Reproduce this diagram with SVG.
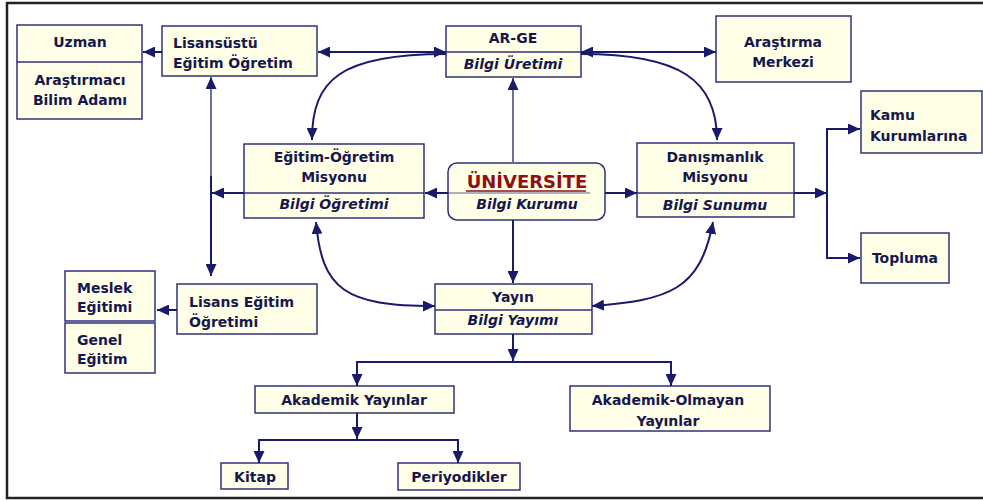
<svg xmlns="http://www.w3.org/2000/svg" width="983" height="500" viewBox="0 0 983 500">
<style>
.box{fill:#ffffe8;stroke:#30307f;stroke-width:1.5}
.div{stroke:#30307f;stroke-width:1.5}
.t{font-family:"DejaVu Sans",Verdana,sans-serif;font-size:14px;font-weight:bold;fill:#17174f}
.c{text-anchor:middle}
.i{font-style:italic}
.ln{fill:none;stroke:#1a1a6a;stroke-width:2}
.gl{fill:none;stroke:#6f6f9c;stroke-width:2}
</style>
<defs>
<marker id="ah" viewBox="0 0 12 11" refX="12" refY="5.5" markerWidth="12" markerHeight="11" markerUnits="userSpaceOnUse" orient="auto-start-reverse">
<path d="M0,0 L12,5.5 L0,11 z" fill="#1a1a6a"/>
</marker>
</defs>
<rect x="0" y="0" width="983" height="500" fill="#ffffff"/>
<rect x="7" y="3" width="990" height="495" fill="none" stroke="#222222" stroke-width="2.5"/>

<g id="uzman">
<rect class="box" x="17" y="25" width="125" height="94"/>
<line class="div" x1="17" y1="62" x2="142" y2="62"/>
<text class="t c" x="80" y="47">Uzman</text>
<text class="t c" x="80" y="85">Araştırmacı</text>
<text class="t c" x="80" y="105">Bilim Adamı</text>
</g>
<g id="lisansustu">
<rect class="box" x="162" y="26" width="155" height="50"/>
<text class="t" x="173" y="48">Lisansüstü</text>
<text class="t" x="173" y="68">Eğitim Öğretim</text>
</g>
<g id="arge">
<rect class="box" x="446" y="26" width="135" height="51"/>
<line class="div" x1="446" y1="52" x2="581" y2="52"/>
<text class="t c" x="513" y="43">AR-GE</text>
<text class="t c i" x="513" y="69">Bilgi Üretimi</text>
</g>
<g id="arastirma">
<rect class="box" x="716" y="16" width="135" height="66"/>
<text class="t c" x="783" y="47">Araştırma</text>
<text class="t c" x="783" y="67">Merkezi</text>
</g>
<g id="kamu">
<rect class="box" x="861" y="91" width="121" height="62"/>
<text class="t" x="870" y="120">Kamu</text>
<text class="t" x="870" y="141">Kurumlarına</text>
</g>
<g id="egitim">
<rect class="box" x="244" y="144" width="180" height="74"/>
<line class="div" x1="244" y1="193" x2="424" y2="193"/>
<text class="t c" x="334" y="162">Eğitim-Öğretim</text>
<text class="t c" x="334" y="182">Misyonu</text>
<text class="t c i" x="334" y="209">Bilgi Öğretimi</text>
</g>
<g id="universite">
<rect x="448" y="163" width="157" height="57" rx="9" ry="9" fill="#ffffe8" stroke="#30307f" stroke-width="1.5"/>
<text x="527" y="188" text-anchor="middle" font-family="DejaVu Sans,Verdana,sans-serif" font-size="18" font-weight="bold" fill="#8f1010">ÜNİVERSİTE</text>
<text class="t c i" x="527" y="209">Bilgi Kurumu</text>
</g>

<g id="danismanlik">
<rect class="box" x="637" y="143" width="157" height="74"/>
<line class="div" x1="637" y1="193" x2="794" y2="193"/>
<text class="t c" x="715" y="162">Danışmanlık</text>
<text class="t c" x="715" y="182">Misyonu</text>
<text class="t c i" x="715" y="210">Bilgi Sunumu</text>
</g>
<g id="topluma">
<rect class="box" x="861" y="233" width="88" height="50"/>
<text class="t c" x="905" y="263">Topluma</text>
</g>
<g id="meslek">
<rect class="box" x="65" y="271" width="90" height="50"/>
<text class="t" x="77" y="293">Meslek</text>
<text class="t" x="77" y="312">Eğitimi</text>
</g>
<g id="genel">
<rect class="box" x="65" y="323" width="90" height="50"/>
<text class="t" x="77" y="345">Genel</text>
<text class="t" x="77" y="364">Eğitim</text>
</g>
<g id="lisans">
<rect class="box" x="177" y="284" width="140" height="50"/>
<text class="t" x="189" y="307">Lisans Eğitim</text>
<text class="t" x="189" y="327">Öğretimi</text>
</g>
<g id="yayin">
<rect class="box" x="435" y="284" width="157" height="50"/>
<line class="div" x1="435" y1="310" x2="592" y2="310"/>
<text class="t c" x="513" y="302">Yayın</text>
<text class="t c i" x="513" y="325">Bilgi Yayımı</text>
</g>
<g id="akademik">
<rect class="box" x="255" y="386" width="199" height="27"/>
<text class="t c" x="354" y="405">Akademik Yayınlar</text>
</g>
<g id="akademik-olmayan">
<rect class="box" x="570" y="386" width="200" height="45"/>
<text class="t c" x="668" y="405">Akademik-Olmayan</text>
<text class="t c" x="668" y="426">Yayınlar</text>
</g>
<g id="kitap">
<rect class="box" x="221" y="463" width="67" height="26"/>
<text class="t c" x="255" y="482">Kitap</text>
</g>
<g id="periyodikler">
<rect class="box" x="398" y="463" width="122" height="27"/>
<text class="t c" x="459" y="482">Periyodikler</text>
</g>

<g id="connectors">
<line class="ln" x1="162" y1="52" x2="143" y2="52" marker-end="url(#ah)"/>
<line class="ln" x1="318" y1="52" x2="446" y2="52" marker-start="url(#ah)" marker-end="url(#ah)"/>
<line class="ln" x1="581" y1="52" x2="716" y2="52" marker-start="url(#ah)" marker-end="url(#ah)"/>
<line class="gl" x1="513" y1="163" x2="513" y2="78" marker-end="url(#ah)"/>
<path class="ln" d="M446,54 C340,54 312,80 312,140" marker-end="url(#ah)"/>
<path class="ln" d="M581,54 C680,54 717,80 717,140" marker-end="url(#ah)"/>
<line class="ln" x1="448" y1="193" x2="425" y2="193" marker-end="url(#ah)"/>
<line class="ln" x1="244" y1="193" x2="212" y2="193" marker-end="url(#ah)"/>
<line class="gl" x1="211" y1="177" x2="211" y2="77" marker-end="url(#ah)"/>
<line class="ln" x1="211" y1="176" x2="211" y2="276" marker-end="url(#ah)"/>
<line class="ln" x1="177" y1="310" x2="157" y2="310" marker-end="url(#ah)"/>
<line class="ln" x1="605" y1="193" x2="637" y2="193" marker-end="url(#ah)"/>
<line class="ln" x1="794" y1="193" x2="827" y2="193" marker-end="url(#ah)"/>
<line class="ln" x1="827" y1="129" x2="827" y2="258"/>
<line class="ln" x1="826" y1="129" x2="860" y2="129" marker-end="url(#ah)"/>
<line class="ln" x1="826" y1="258" x2="860" y2="258" marker-end="url(#ah)"/>
<line class="ln" x1="513" y1="220" x2="513" y2="283" marker-end="url(#ah)"/>
<path class="ln" d="M316,222 C322,290 345,306 435,306" marker-start="url(#ah)" marker-end="url(#ah)"/>
<path class="ln" d="M713,222 C700,290 670,300 592,306" marker-start="url(#ah)" marker-end="url(#ah)"/>
<line class="ln" x1="513" y1="334" x2="513" y2="361" marker-end="url(#ah)"/>
<line class="ln" x1="357" y1="362" x2="671" y2="362"/>
<line class="ln" x1="357" y1="361" x2="357" y2="386" marker-end="url(#ah)"/>
<line class="ln" x1="671" y1="361" x2="671" y2="386" marker-end="url(#ah)"/>
<line class="ln" x1="357" y1="413" x2="357" y2="439" marker-end="url(#ah)"/>
<line class="ln" x1="259" y1="440" x2="458" y2="440"/>
<line class="ln" x1="259" y1="439" x2="259" y2="463" marker-end="url(#ah)"/>
<line class="ln" x1="458" y1="439" x2="458" y2="463" marker-end="url(#ah)"/>
<line class="ln" x1="448" y1="193" x2="590" y2="193" stroke-opacity="0.35"/>
<line x1="466" y1="191" x2="586" y2="191" stroke="#8f1010" stroke-width="1.5"/>
</g>
</svg>
